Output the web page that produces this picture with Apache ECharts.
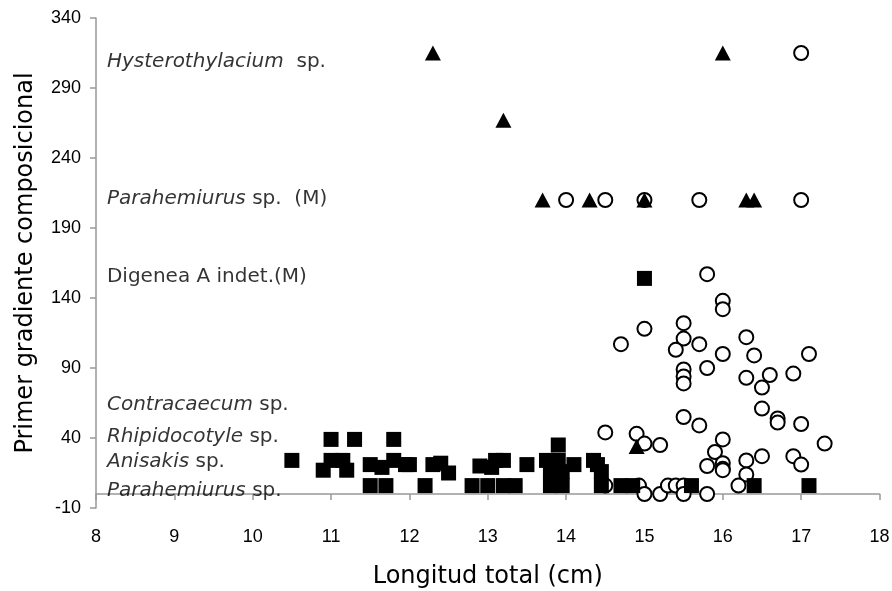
<!DOCTYPE html>
<html>
<head>
<meta charset="utf-8">
<script src="https://cdn.jsdelivr.net/npm/echarts@6/dist/echarts.min.js"></script>
<style>
html,body{margin:0;padding:0;background:#fff;}
#chart{width:892px;height:591px;}
</style>
</head>
<body>
<div id="chart"></div>
<script>
// Filled squares
var squares = [
  [10.5,24],[10.9,17],[11.0,24],[11.15,24],[11.2,17],[11.0,39],[11.3,39],[11.8,39],
  [11.5,21],[11.65,19],[11.8,24],[11.95,21],[12.0,21],[11.5,6],[11.7,6],[12.2,6],
  [12.3,21],[12.4,22],[12.5,15],
  [12.8,6],[13.0,6],[13.2,6],[13.35,6],[12.9,20],[13.1,24],[13.2,24],[13.05,19],[13.5,21],
  [13.9,35],[13.75,24],[13.9,24],[14.1,21],[13.8,16],[13.95,16],[13.8,6],[13.95,6],
  [14.35,24],[14.45,16],[14.4,21],[14.45,6],[14.7,6],[14.85,6],
  [15.0,154],[15.6,6],[16.4,6],[17.1,6]
];
// Filled triangles
var triangles = [
  [12.3,315],[13.2,267],[16.0,315],[13.7,210],[14.3,210],[15.0,210],[16.3,210],[16.4,210],[14.9,34]
];
// Open circles
var circles = [
  [17.0,315],[14.0,210],[14.5,210],[15.0,210],[15.7,210],[17.0,210],
  [15.8,157],[16.0,138],[16.0,132],[15.0,118],[14.7,107],[15.5,122],[15.5,111],[15.4,103],[15.7,107],
  [16.3,112],[16.0,100],[16.4,99],[17.1,100],[15.5,89],[15.5,84],[15.5,79],[15.8,90],[16.3,83],
  [16.6,85],[16.5,76],[16.9,86],[16.5,61],[15.5,55],[16.7,54],[16.7,51],[17.0,50],[15.7,49],
  [14.5,44],[14.9,43],[15.0,36],[15.2,35],[16.0,39],[15.9,30],[16.0,22],[16.0,18],[16.0,17],
  [15.8,20],[16.3,24],[16.3,14],[16.5,27],[16.9,27],[17.0,21],[17.3,36],
  [14.5,6],[14.93,6],[15.0,0],[15.2,0],[15.3,6],[15.4,6],[15.5,6],[15.5,0],[15.8,0],[16.2,6]
];
// Species labels
var labelX = 8.14;
var labelY = [309, 211, 155, 64, 41, 23, 2];
var labelItalic = ['Hysterothylacium', 'Parahemiurus', '', 'Contracaecum', 'Rhipidocotyle', 'Anisakis', 'Parahemiurus'];
var labelPlain = ['  sp.', ' sp.  (M)', 'Digenea A indet.(M)', ' sp.', ' sp.', ' sp.', ' sp.'];

var xTitle = 'Longitud total (cm)';
var yTitle = 'Primer gradiente composicional';

var labelData = labelY.map(function(y, i){
  return {value:[labelX, y], it: labelItalic[i], pl: labelPlain[i]};
});

var chart = echarts.init(document.getElementById('chart'), null, {renderer:'canvas'});
var axisCol = '#999999';
chart.setOption({
  backgroundColor:'#fff',
  animation:false,
  textStyle:{fontFamily:'Arial', fontSize:18, color:'#000'},
  grid:{left:96, right:12.5, top:18, bottom:83, containLabel:false, outerBoundsMode:'none'},
  xAxis:{
    type:'value', min:8, max:18, interval:1,
    name:xTitle, nameLocation:'middle', nameGap:57,
    nameTextStyle:{fontFamily:'DejaVu Sans', fontSize:24, color:'#000'},
    axisLine:{show:true, lineStyle:{color:axisCol, width:1.5}},
    axisTick:{show:true, length:6, lineStyle:{color:axisCol, width:1.5}},
    axisLabel:{show:true, fontFamily:'Arial', fontSize:18, color:'#000', margin:20},
    splitLine:{show:false}
  },
  yAxis:{
    type:'value', min:-10, max:340, interval:50,
    name:yTitle, nameLocation:'middle', nameGap:58, nameRotate:90,
    nameTextStyle:{fontFamily:'DejaVu Sans', fontSize:24, color:'#000'},
    axisLine:{show:true, lineStyle:{color:axisCol, width:1.5}},
    axisTick:{show:true, length:6, lineStyle:{color:axisCol, width:1.5}},
    axisLabel:{show:true, fontFamily:'Arial', fontSize:18, color:'#000', margin:15},
    splitLine:{show:false}
  },
  series:[
    {
      type:'scatter', name:'circles', data:circles, symbol:'circle', symbolSize:14,
      itemStyle:{color:'#fff', borderColor:'#000', borderWidth:2, opacity:1},
      z:2
    },
    {
      type:'scatter', name:'squares', data:squares, symbol:'rect', symbolSize:15,
      itemStyle:{color:'#000', opacity:1}, z:3
    },
    {
      type:'scatter', name:'triangles', data:triangles, symbol:'triangle', symbolSize:[16,15],
      itemStyle:{color:'#000', opacity:1}, z:4
    },
    {
      type:'scatter', name:'labels', data:labelData, symbolSize:0, silent:true, z:5,
      label:{
        show:true, position:'right', distance:0,
        formatter:function(p){
          var d = p.data;
          return (d.it ? '{i|' + d.it + '}' : '') + '{n|' + d.pl + '}';
        },
        rich:{
          i:{fontFamily:'DejaVu Sans', fontStyle:'italic', fontSize:20, color:'#000'},
          n:{fontFamily:'DejaVu Sans', fontSize:20, color:'#000'}
        }
      }
    }
  ]
});
</script>
</body>
</html>
